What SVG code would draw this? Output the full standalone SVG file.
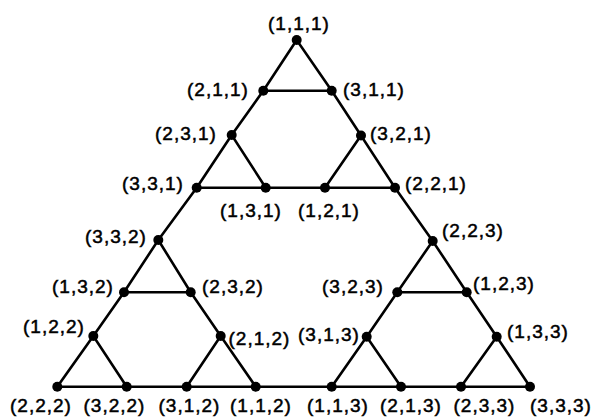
<svg xmlns="http://www.w3.org/2000/svg" width="595" height="419" viewBox="0 0 595 419">
<style>
.e{stroke:#000;stroke-width:2.6;fill:none}
.n{fill:#000}
text{font-family:"Liberation Sans",Arial,sans-serif;font-size:19px;letter-spacing:1px;fill:#000;stroke:#000;stroke-width:0.5}
</style>
<rect width="595" height="419" fill="#fff"/>
<g id="edges">
<path class="e" d="M296.7,40 L263.3,90.7 L331.7,90.7 Z M263.3,90.7 L231.7,135 M331.7,90.7 L361,135.5 M231.7,135 L196.7,187.7 L265.7,187.7 Z M361,135.5 L325,187.7 L395,187.7 Z M265.7,187.7 L325,187.7 M196.7,187.7 L158.3,240 M395,187.7 L432.7,241 M158.3,240 L124,292.3 L190.7,292.3 Z M124,292.3 L93.3,336 M190.7,292.3 L220.7,336 M93.3,336 L57.3,386.7 L126.7,386.7 Z M220.7,336 L186.7,386.7 L255.7,386.7 Z M126.7,386.7 L186.7,386.7 M255.7,386.7 L331.7,386.7 M432.7,241 L397.3,292.3 L466.7,292.3 Z M397.3,292.3 L366.7,336.7 M466.7,292.3 L496.7,336.7 M366.7,336.7 L331.7,386.7 L401,386.7 Z M496.7,336.7 L461,386.7 L530,386.7 Z M401,386.7 L461,386.7"/>
</g>
<g id="n111"><circle class="n" cx="296.7" cy="40" r="5"/><text x="268" y="29.5">(1,1,1)</text></g>
<g id="n211"><circle class="n" cx="263.3" cy="90.7" r="5"/><text x="187" y="96">(2,1,1)</text></g>
<g id="n311"><circle class="n" cx="331.7" cy="90.7" r="5"/><text x="343" y="96">(3,1,1)</text></g>
<g id="n231"><circle class="n" cx="231.7" cy="135" r="5"/><text x="155" y="140">(2,3,1)</text></g>
<g id="n321"><circle class="n" cx="361" cy="135.5" r="5"/><text x="370" y="140">(3,2,1)</text></g>
<g id="n331"><circle class="n" cx="196.7" cy="187.7" r="5"/><text x="122" y="190">(3,3,1)</text></g>
<g id="n131"><circle class="n" cx="265.7" cy="187.7" r="5"/><text x="220" y="216.5">(1,3,1)</text></g>
<g id="n121"><circle class="n" cx="325" cy="187.7" r="5"/><text x="298" y="216.5">(1,2,1)</text></g>
<g id="n221"><circle class="n" cx="395" cy="187.7" r="5"/><text x="405" y="190">(2,2,1)</text></g>
<g id="n332"><circle class="n" cx="158.3" cy="240" r="5"/><text x="85" y="243">(3,3,2)</text></g>
<g id="n223"><circle class="n" cx="432.7" cy="241" r="5"/><text x="442" y="236.5">(2,2,3)</text></g>
<g id="n132"><circle class="n" cx="124" cy="292.3" r="5"/><text x="52" y="293">(1,3,2)</text></g>
<g id="n232"><circle class="n" cx="190.7" cy="292.3" r="5"/><text x="202" y="293">(2,3,2)</text></g>
<g id="n323"><circle class="n" cx="397.3" cy="292.3" r="5"/><text x="322" y="293">(3,2,3)</text></g>
<g id="n123"><circle class="n" cx="466.7" cy="292.3" r="5"/><text x="473" y="290">(1,2,3)</text></g>
<g id="n122"><circle class="n" cx="93.3" cy="336" r="5"/><text x="23" y="333">(1,2,2)</text></g>
<g id="n212"><circle class="n" cx="220.7" cy="336" r="5"/><text x="228.5" y="345">(2,1,2)</text></g>
<g id="n313"><circle class="n" cx="366.7" cy="336.7" r="5"/><text x="298" y="341">(3,1,3)</text></g>
<g id="n133"><circle class="n" cx="496.7" cy="336.7" r="5"/><text x="507" y="338">(1,3,3)</text></g>
<g id="n222"><circle class="n" cx="57.3" cy="386.7" r="5"/><text x="10" y="411.5">(2,2,2)</text></g>
<g id="n322"><circle class="n" cx="126.7" cy="386.7" r="5"/><text x="83.5" y="411.5">(3,2,2)</text></g>
<g id="n312"><circle class="n" cx="186.7" cy="386.7" r="5"/><text x="158.5" y="411.5">(3,1,2)</text></g>
<g id="n112"><circle class="n" cx="255.7" cy="386.7" r="5"/><text x="230" y="411.5">(1,1,2)</text></g>
<g id="n113"><circle class="n" cx="331.7" cy="386.7" r="5"/><text x="307" y="411.5">(1,1,3)</text></g>
<g id="n213"><circle class="n" cx="401" cy="386.7" r="5"/><text x="380" y="411.5">(2,1,3)</text></g>
<g id="n233"><circle class="n" cx="461" cy="386.7" r="5"/><text x="453.5" y="411.5">(2,3,3)</text></g>
<g id="n333"><circle class="n" cx="530" cy="386.7" r="5"/><text x="530" y="411.5">(3,3,3)</text></g>
</svg>
